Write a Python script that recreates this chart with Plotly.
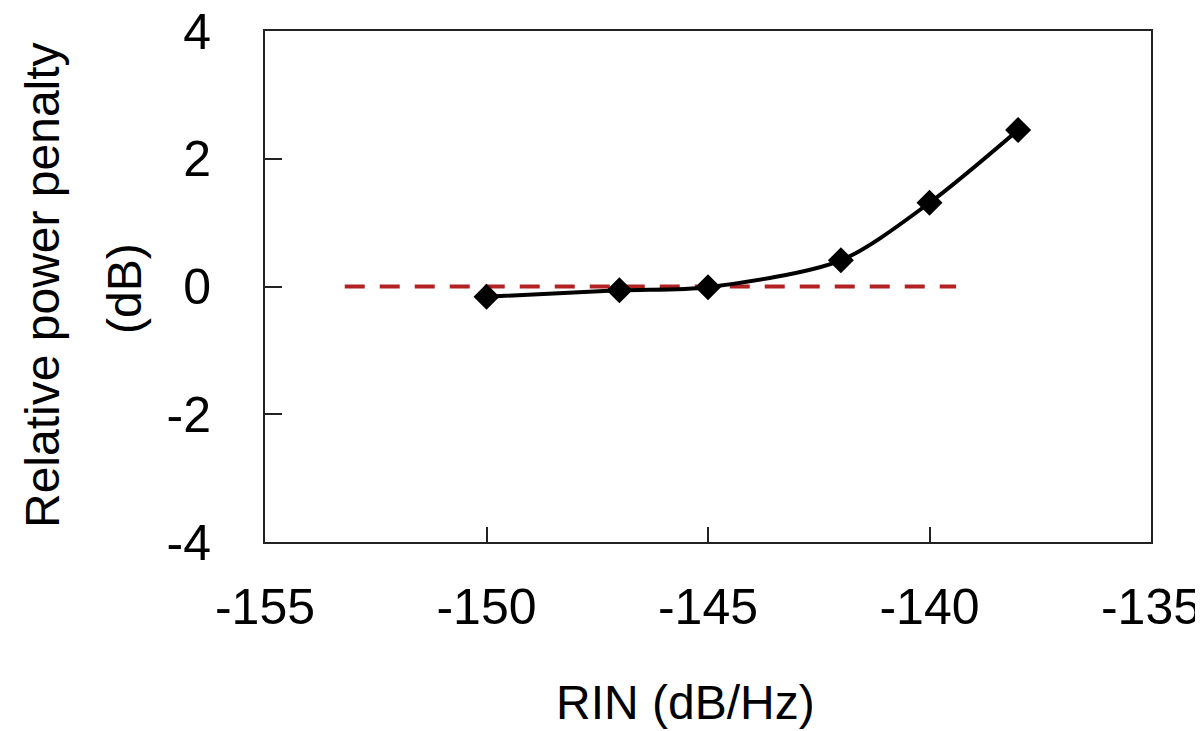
import plotly.graph_objects as go

rin = [-150, -147, -145, -142, -140, -138]
penalty = [-0.16, -0.06, -0.01, 0.41, 1.31, 2.45]

ref_x = [-153.2, -139.4]
ref_y = [0, 0]

x_ticks = [-155, -150, -145, -140, -135]
x_labels = ["-155", "-150", "-145", "-140", "-135"]
y_ticks = [-4, -2, 0, 2, 4]
y_labels = ["-4", "-2", "0", "2", "4"]

FONT = "Liberation Sans, Arial, sans-serif"

# page body has an 8px margin; figure is sized so it ends at the window edge
L, T, R, B = 257, 23, 1143, 534   # plot frame in figure pixels
W, H = 1195, 723

fig = go.Figure()
fig.add_trace(go.Scatter(
    x=ref_x, y=ref_y, mode="lines",
    line=dict(color="#B22222", width=4, dash="20px,15px"),
    showlegend=False, hoverinfo="skip"))
fig.add_trace(go.Scatter(
    x=rin, y=penalty, mode="lines+markers",
    line=dict(color="black", width=4, shape="spline", smoothing=0.8),
    marker=dict(symbol="diamond", size=20, color="black"),
    showlegend=False))

pw, ph = R - L, B - T
fig.update_layout(
    width=W, height=H,
    margin=dict(l=L, r=W - R, t=T, b=H - B),
    paper_bgcolor="white", plot_bgcolor="white",
    font=dict(family=FONT, size=48, color="black"),
    xaxis=dict(range=[-155, -135], tickvals=x_ticks, ticktext=x_labels,
               ticks="inside", ticklen=15, automargin=False,
               ticklabeloverflow="allow",
               tickwidth=2, tickcolor="#222", showline=True, linecolor="#222",
               linewidth=2, mirror=True, showgrid=False, zeroline=False,
               ticklabelstandoff=20, tickfont=dict(size=50)),
    yaxis=dict(range=[-4, 4], tickvals=y_ticks, ticktext=y_labels,
               ticks="inside", ticklen=17, automargin=False,
               ticklabeloverflow="allow",
               tickwidth=2, tickcolor="#222", showline=True, linecolor="#222",
               linewidth=2, mirror=True, showgrid=False, zeroline=False,
               ticklabelstandoff=42, tickfont=dict(size=50)),
    annotations=[
        dict(text="RIN (dB/Hz)", xref="paper", yref="paper", x=(685 - 265) / pw,
             y=-(702 - 542) / ph, xanchor="center", yanchor="middle",
             showarrow=False, font=dict(size=48)),
        dict(text="Relative power penalty", xref="paper", yref="paper",
             x=-(265 - 42) / pw, y=(542 - 285) / ph, textangle=-90,
             xanchor="center", yanchor="middle", showarrow=False, font=dict(size=48)),
        dict(text="(dB)", xref="paper", yref="paper",
             x=-(265 - 124) / pw, y=(542 - 289) / ph, textangle=-90,
             xanchor="center", yanchor="middle", showarrow=False, font=dict(size=48)),
    ],
)

fig.write_html("out.html")
